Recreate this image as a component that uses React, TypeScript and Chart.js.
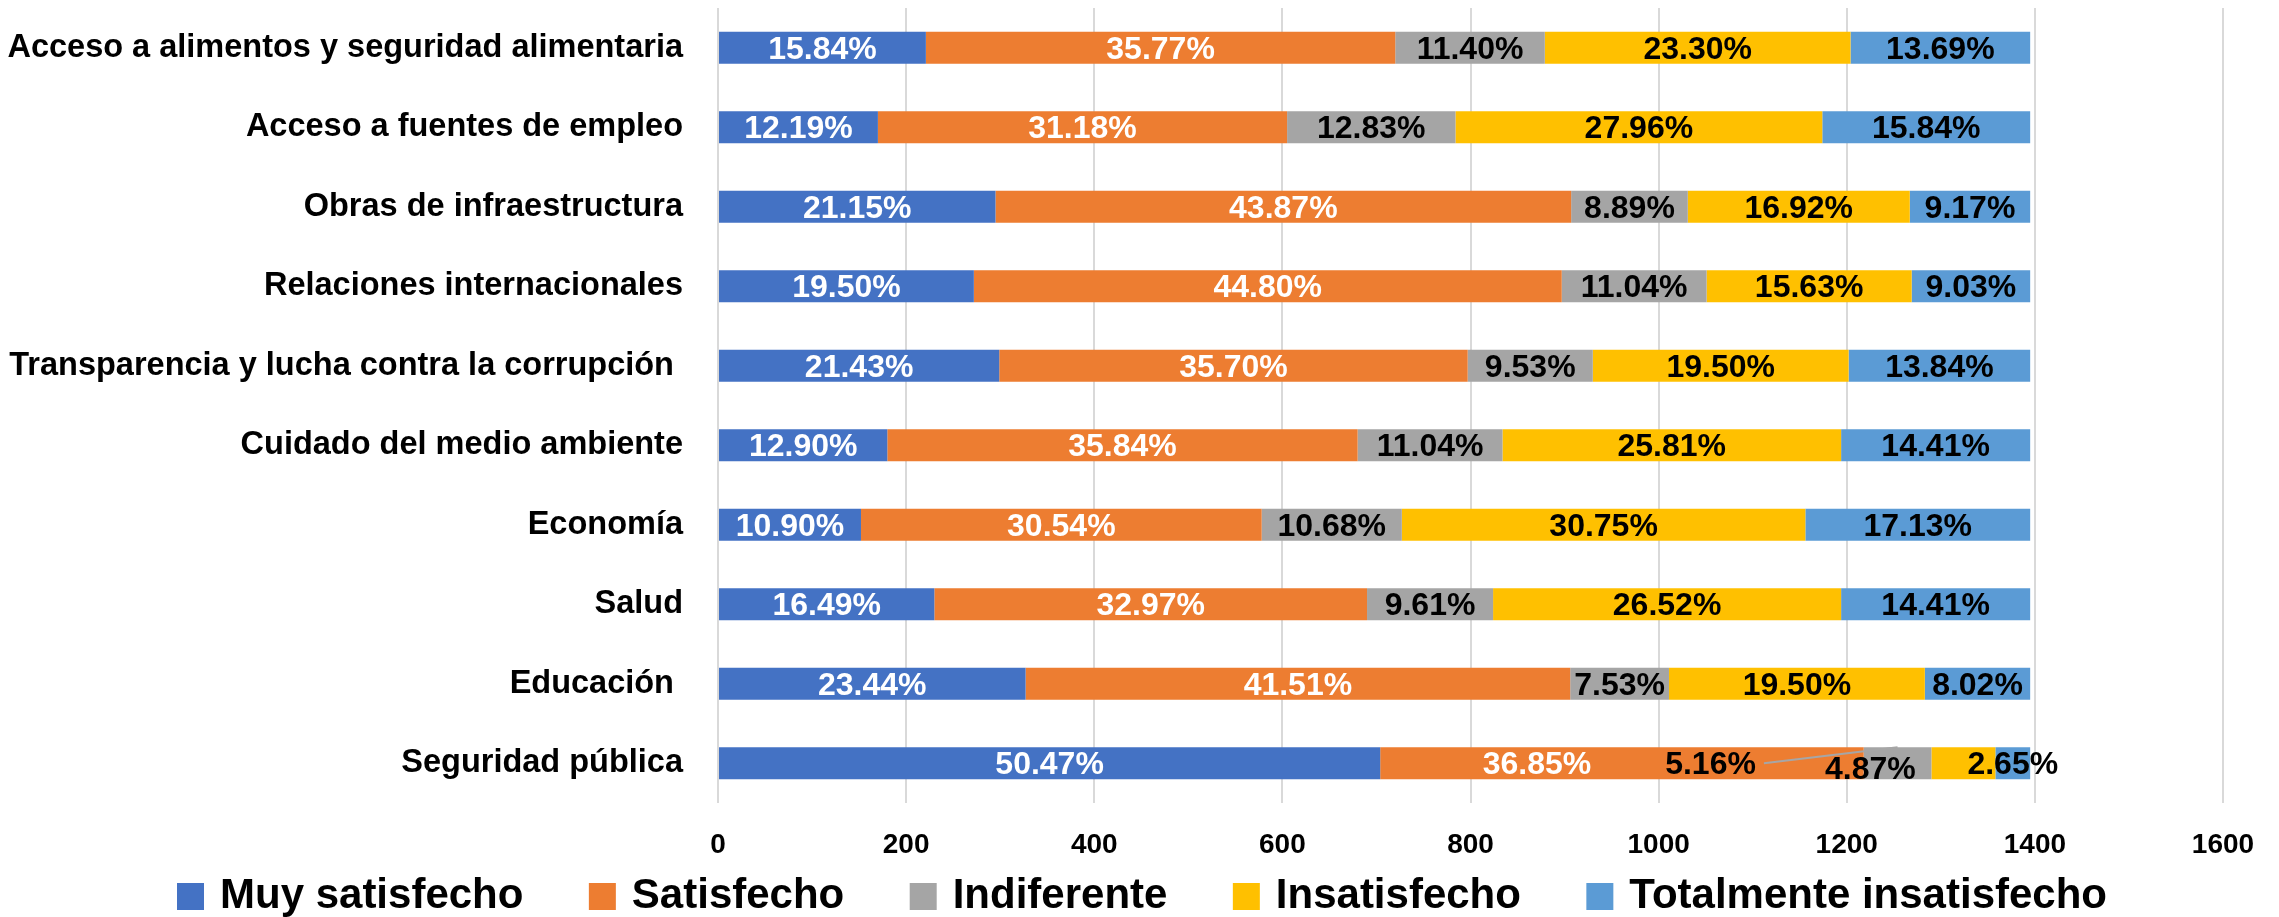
import React, { useEffect, useRef } from "react";
import { Chart, registerables } from "chart.js";

Chart.register(...registerables);

const categories = [
  "Acceso a alimentos y seguridad alimentaria",
  "Acceso a fuentes de empleo",
  "Obras de infraestructura",
  "Relaciones internacionales",
  "Transparencia y lucha contra la corrupción ",
  "Cuidado del medio ambiente",
  "Economía",
  "Salud",
  "Educación ",
  "Seguridad pública",
];

const seriesNames = ["Muy satisfecho", "Satisfecho", "Indiferente", "Insatisfecho", "Totalmente insatisfecho"];
const seriesColors = ["#4472C4", "#ED7D31", "#A5A5A5", "#FFC000", "#5B9BD5"];
const labelColors = ["#FFFFFF", "#FFFFFF", "#000000", "#000000", "#000000"];

// counts (respondents)
const muySatisfecho = [221, 170, 295, 272, 299, 180, 152, 230, 327, 704];
const satisfecho = [499, 435, 612, 625, 498, 500, 426, 460, 579, 514];
const indiferente = [159, 179, 124, 154, 133, 154, 149, 134, 105, 72];
const insatisfecho = [325, 390, 236, 218, 272, 360, 429, 370, 272, 68];
const totalmenteInsatisfecho = [191, 221, 128, 126, 193, 201, 239, 201, 112, 37];

// percentage labels
const pctMuySatisfecho = [15.84, 12.19, 21.15, 19.5, 21.43, 12.9, 10.9, 16.49, 23.44, 50.47];
const pctSatisfecho = [35.77, 31.18, 43.87, 44.8, 35.7, 35.84, 30.54, 32.97, 41.51, 36.85];
const pctIndiferente = [11.4, 12.83, 8.89, 11.04, 9.53, 11.04, 10.68, 9.61, 7.53, 5.16];
const pctInsatisfecho = [23.3, 27.96, 16.92, 15.63, 19.5, 25.81, 30.75, 26.52, 19.5, 4.87];
const pctTotalmente = [13.69, 15.84, 9.17, 9.03, 13.84, 14.41, 17.13, 14.41, 8.02, 2.65];

const xMin = 0;
const xMax = 1600;
const xStep = 200;

const FONT = "'Liberation Sans', Arial, sans-serif";

export default function App() {
  const canvasRef = useRef<HTMLCanvasElement | null>(null);

  useEffect(() => {
    const canvas = canvasRef.current;
    if (!canvas) return;
    const values = [muySatisfecho, satisfecho, indiferente, insatisfecho, totalmenteInsatisfecho];
    const pcts = [pctMuySatisfecho, pctSatisfecho, pctIndiferente, pctInsatisfecho, pctTotalmente];

    const segLabels = {
      id: "segLabels",
      afterDatasetsDraw(chart: any) {
        const ctx = chart.ctx;
        ctx.save();
        ctx.font = `bold 32px ${FONT}`;
        ctx.textAlign = "center";
        ctx.textBaseline = "middle";
        const last = categories.length - 1;
        // manual label shifts for the crowded last row (pixels)
        const shifts: Record<number, { dx: number; dy: number; leader?: boolean }> = {
          1: { dx: -85, dy: 0 },
          2: { dx: -187, dy: 0, leader: true },
          3: { dx: -93, dy: 5 },
          4: { dx: 0, dy: 0 },
        };
        chart.data.datasets.forEach((ds: any, di: number) => {
          const meta = chart.getDatasetMeta(di);
          meta.data.forEach((bar: any, i: number) => {
            const p = bar.getProps(["x", "base", "y", "height"], true);
            const segCx = (p.x + p.base) / 2;
            let cx = segCx;
            let cy = p.y + 2;
            const text = pcts[di][i].toFixed(2) + "%";
            if (i === last && shifts[di]) {
              cx += shifts[di].dx;
              cy += shifts[di].dy;
              if (shifts[di].leader) {
                const w = ctx.measureText(text).width;
                ctx.strokeStyle = "#A6A6A6";
                ctx.lineWidth = 2;
                ctx.beginPath();
                ctx.moveTo(cx + w / 2 + 8, cy - 2);
                ctx.lineTo(segCx, p.y - p.height / 2);
                ctx.stroke();
              }
            }
            ctx.fillStyle = labelColors[di];
            ctx.fillText(text, cx, cy);
          });
        });
        ctx.restore();
      },
    };

    const customLegend = {
      id: "customLegend",
      afterDraw(chart: any) {
        const ctx = chart.ctx;
        ctx.save();
        ctx.font = `bold 42px ${FONT}`;
        ctx.textBaseline = "middle";
        ctx.textAlign = "left";
        const boxW = 27;
        const boxH = 27;
        const textGap = 16;
        const startX = 177;
        const endX = 2107;
        const boxTop = 883;
        const widths = chart.data.datasets.map((d: any) => boxW + textGap + ctx.measureText(d.label).width);
        const sum = widths.reduce((a: number, b: number) => a + b, 0);
        const gap = (endX - startX - sum) / (widths.length - 1);
        let x = startX;
        chart.data.datasets.forEach((d: any, k: number) => {
          ctx.fillStyle = d.backgroundColor;
          ctx.fillRect(x, boxTop, boxW, boxH);
          ctx.fillStyle = "#000";
          ctx.fillText(d.label, x + boxW + textGap, boxTop + boxH / 2);
          x += widths[k] + gap;
        });
        ctx.restore();
      },
    };

    const chart = new Chart(canvas, {
      type: "bar",
      data: {
        labels: categories,
        datasets: seriesNames.map((name, k) => ({
          label: name,
          data: values[k],
          backgroundColor: seriesColors[k],
          borderWidth: 0,
          barPercentage: 0.4,
          categoryPercentage: 1,
        })),
      },
      options: {
        indexAxis: "y",
        responsive: false,
        animation: false,
        layout: { padding: { top: 8, right: 56, bottom: 54, left: 0 } },
        plugins: {
          legend: { display: false },
          tooltip: { enabled: false },
        },
        scales: {
          x: {
            stacked: true,
            min: xMin,
            max: xMax,
            ticks: {
              stepSize: xStep,
              color: "#000",
              font: { family: FONT, size: 28, weight: "bold" },
              padding: 25,
              maxRotation: 0,
              callback: (v: any) => String(v),
            },
            grid: { color: "#D9D9D9", lineWidth: 2, drawTicks: false },
            border: { display: false },
            afterFit(scale: any) {
              scale.height = 60;
              scale.paddingLeft = 0;
              scale.paddingRight = 0;
            },
          },
          y: {
            stacked: true,
            ticks: {
              color: "#000",
              font: { family: FONT, size: 32.5, weight: "bold" },
              padding: 27,
            },
            grid: { display: false },
            border: { display: false },
            afterFit(scale: any) {
              scale.width = 718;
              scale.paddingTop = 0;
              scale.paddingBottom = 0;
            },
          },
        },
      } as any,
      plugins: [segLabels, customLegend],
    });
    return () => chart.destroy();
  }, []);

  return (
    <div style={{ position: "absolute", left: 0, top: 0, width: 2279, height: 917, background: "#fff" }}>
      <canvas ref={canvasRef} width={2279} height={917} style={{ display: "block" }} />
    </div>
  );
}
